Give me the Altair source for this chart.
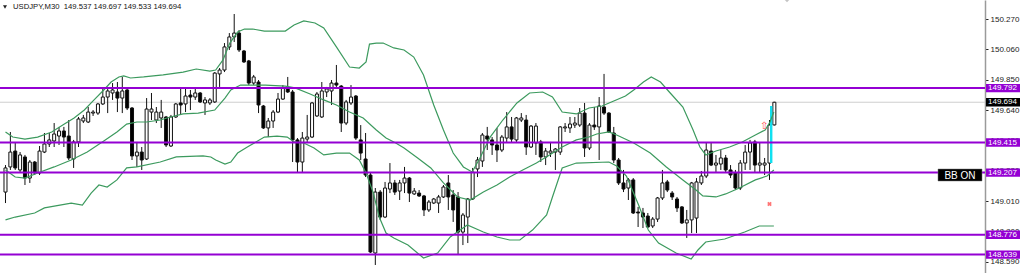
import altair as alt
import pandas as pd

# ---------------- data ----------------
title_text = "USDJPY,M30\u00a0\u00a0149.537 149.697 149.533 149.694"

open_ = [149.072,149.246,149.356,149.225,149.315,149.169,149.280,149.204,149.349,149.405,
149.426,149.460,149.495,149.460,149.301,149.419,149.564,149.557,149.619,149.619,
149.682,149.730,149.758,149.765,149.723,149.779,149.654,149.322,149.349,149.301,
149.626,149.571,149.585,149.592,149.391,149.592,149.689,149.682,149.744,149.730,
149.758,149.689,149.689,149.696,149.890,149.917,150.077,150.146,150.173,150.049,
149.980,149.827,149.834,149.668,149.516,149.564,149.626,149.716,149.793,149.765,
149.433,149.280,149.439,149.453,149.599,149.592,149.765,149.772,149.827,149.806,
149.550,149.689,149.737,149.433,149.301,149.190,148.650,149.072,148.899,149.093,
149.135,149.079,149.135,149.169,149.059,149.065,149.045,148.948,148.996,148.996,
149.038,149.135,149.052,149.038,148.795,148.899,149.024,149.232,149.287,149.460,
149.433,149.398,149.363,149.446,149.523,149.433,149.571,149.571,149.384,149.412,
149.419,149.315,149.342,149.349,149.349,149.516,149.516,149.536,149.536,149.619,
149.377,149.536,149.523,149.661,149.619,149.481,149.294,149.135,149.100,149.156,
148.934,148.927,148.906,148.837,148.885,149.031,149.142,149.065,149.024,148.969,
148.858,148.879,148.892,149.135,149.183,149.356,149.259,149.266,149.308,149.225,
149.204,149.100,149.273,149.349,149.419,149.259,149.259,149.273,149.537]

high_ = [149.259,149.488,149.412,149.349,149.329,149.294,149.287,149.391,149.481,149.481,
149.550,149.523,149.523,149.571,149.433,149.592,149.606,149.661,149.640,149.689,
149.793,149.793,149.827,149.834,149.869,149.786,149.661,149.419,149.384,149.723,
149.758,149.661,149.710,149.599,149.606,149.689,149.793,149.793,149.779,149.793,
149.765,149.730,149.723,149.903,149.931,150.104,150.173,150.305,150.194,150.056,
149.987,149.883,149.848,149.675,149.585,149.640,149.758,149.813,149.869,149.779,
149.446,149.488,149.606,149.696,149.765,149.834,149.800,149.848,149.952,149.813,
149.710,149.813,149.744,149.536,149.481,149.204,149.100,149.086,149.142,149.273,
149.156,149.156,149.246,149.176,149.100,149.086,149.052,149.017,149.031,149.052,
149.121,149.190,149.086,149.072,148.927,149.031,149.239,149.315,149.481,149.523,
149.453,149.516,149.467,149.626,149.592,149.592,149.619,149.606,149.536,149.550,
149.433,149.377,149.419,149.377,149.529,149.550,149.592,149.592,149.654,149.689,
149.550,149.661,149.730,149.890,149.626,149.523,149.308,149.225,149.169,149.169,
148.969,148.962,148.927,148.899,149.038,149.225,149.156,149.079,149.038,148.975,
148.948,149.142,149.169,149.218,149.412,149.412,149.329,149.363,149.329,149.259,
149.225,149.294,149.398,149.433,149.433,149.412,149.308,149.571,149.697]

low_ = [148.996,149.225,149.225,149.211,149.121,149.135,149.190,149.190,149.342,149.384,
149.384,149.398,149.384,149.294,149.239,149.384,149.550,149.550,149.599,149.606,
149.675,149.619,149.710,149.626,149.619,149.640,149.294,149.246,149.225,149.294,
149.571,149.550,149.516,149.384,149.384,149.585,149.606,149.626,149.640,149.710,
149.689,149.606,149.675,149.689,149.800,149.903,150.056,150.111,150.042,149.966,
149.813,149.813,149.619,149.509,149.453,149.516,149.619,149.710,149.758,149.280,
149.204,149.211,149.419,149.446,149.592,149.585,149.730,149.675,149.800,149.488,
149.536,149.675,149.433,149.294,149.176,148.650,148.567,148.879,148.892,149.065,
149.052,149.017,149.065,149.003,149.052,149.038,148.906,148.934,148.989,148.927,
149.031,148.948,148.865,148.636,148.705,148.719,149.017,149.176,149.246,149.363,
149.329,149.280,149.349,149.419,149.412,149.419,149.557,149.329,149.377,149.329,
149.280,149.259,149.315,149.225,149.329,149.488,149.481,149.516,149.523,149.315,
149.363,149.502,149.294,149.606,149.481,149.273,149.121,149.072,149.017,148.920,
148.830,148.823,148.823,148.823,148.865,149.017,149.072,149.017,148.934,148.851,
148.754,148.788,148.788,149.121,149.169,149.252,149.211,149.225,149.204,149.169,
149.086,149.086,149.225,149.225,149.211,149.211,149.190,149.156,149.533]

close_ = [149.239,149.349,149.239,149.329,149.169,149.280,149.204,149.356,149.405,149.433,
149.474,149.495,149.453,149.308,149.419,149.578,149.585,149.626,149.626,149.682,
149.730,149.772,149.779,149.723,149.772,149.654,149.322,149.349,149.294,149.647,
149.647,149.626,149.626,149.398,149.592,149.682,149.675,149.737,149.730,149.758,
149.696,149.710,149.710,149.896,149.917,150.077,150.146,150.173,150.056,149.973,
149.827,149.869,149.675,149.516,149.564,149.626,149.716,149.793,149.765,149.433,
149.280,149.446,149.453,149.689,149.751,149.772,149.786,149.827,149.813,149.550,
149.696,149.730,149.446,149.342,149.190,148.657,149.072,148.899,149.100,149.135,
149.072,149.135,149.169,149.065,149.079,149.045,148.948,149.003,149.024,149.038,
149.107,149.038,148.948,148.795,148.913,149.024,149.211,149.294,149.467,149.439,
149.398,149.363,149.453,149.523,149.439,149.585,149.585,149.384,149.529,149.529,
149.315,149.356,149.356,149.370,149.523,149.523,149.543,149.550,149.619,149.377,
149.536,149.523,149.668,149.619,149.488,149.294,149.135,149.093,149.156,148.927,
148.927,148.899,148.830,148.885,149.031,149.135,149.086,149.038,148.962,148.858,
148.879,149.135,149.142,149.183,149.363,149.259,149.273,149.308,149.225,149.190,
149.100,149.273,149.349,149.412,149.259,149.273,149.273,149.536,149.694]

# Bollinger band lines, read at candle positions (index, price)
upper_idx = [0,1.5,4,6.6,9.5,12.1,14.1,16.2,18.2,20.2,21.7,23.3,24.3,25.7,28.4,32.4,36.5,39.2,42,43.2,
             44.7,46.1,47.7,49.1,50.8,53.2,57.5,59.3,61.3,63.6,65.4,68,70.7,72.7,74.1,74.8,76.2,77.6,79.8,81.9,
             83.9,85.9,88,90,92,94.1,95.9,97.5,99.6,102.2,105.1,107.7,110.4,112.4,114.4,117.3,119.9,122.6,125,127.4,
             129.1,131.1,132.7,134.6,136.6,139.2,141.3,142.7,143.9,146,148.8,151.4,154.1,156.1,157.1,157.9]
upper_px = [149.488,149.453,149.439,149.453,149.488,149.543,149.585,149.640,149.710,149.779,
            149.834,149.869,149.876,149.862,149.869,149.883,149.903,149.924,149.910,149.917,
            149.987,150.104,150.180,150.201,150.201,150.187,150.187,150.229,150.257,150.243,
            150.208,150.077,149.938,149.931,149.973,150.097,150.104,150.104,150.070,150.056,
            150.007,149.883,149.675,149.502,149.342,149.246,149.211,149.308,149.453,149.571,
            149.689,149.758,149.765,149.730,149.626,149.613,149.654,149.668,149.703,149.737,
            149.779,149.834,149.869,149.834,149.758,149.661,149.502,149.384,149.329,149.356,
            149.384,149.419,149.467,149.502,149.557,149.626]

mid_idx = [0,2,4,6.6,10,13.5,16.8,20.2,22.9,24.9,27,29,31.8,33.9,36.5,39.6,43,45.1,46.3,48.3,
           50.8,53.4,57.5,59.5,62.6,65.4,68,70.7,73.5,76.2,78.2,80.2,81.9,84.7,87.4,90,92.9,95.5,98.2,101,
           103.6,106.3,109.1,111.8,114.4,117.3,119.9,121.5,124,125.6,129.1,132.5,135.8,139.2,141.9,143.3,146,148,150.8,154.1,
           156.5,157.9]
mid_px = [149.225,149.176,149.169,149.204,149.246,149.294,149.349,149.426,149.488,149.543,
          149.557,149.557,149.571,149.592,149.613,149.619,149.640,149.723,149.779,149.813,
          149.813,149.813,149.806,149.793,149.751,149.710,149.675,149.626,149.585,149.502,
          149.446,149.412,149.377,149.308,149.239,149.135,149.038,149.017,149.072,149.121,
          149.176,149.225,149.273,149.329,149.384,149.433,149.453,149.474,149.488,149.467,
          149.412,149.342,149.246,149.156,149.086,149.045,149.038,149.059,149.100,149.156,
          149.183,149.225]

lower_idx = [0,2,6,8,13.5,15.8,17.6,19.2,20.9,22.9,24.9,27,31.8,35.1,40.6,42.2,43.2,45.1,46.3,47.7,
             49.7,53.2,55.8,57.9,59.3,61.3,63.4,65.4,68,70.7,72.7,74.1,75.6,76.8,78.2,79.8,82.7,85.9,88.8,91.4,
             94.9,98.2,101,103.6,105.7,108.3,111.2,112.4,114.4,117.3,124,125.6,127.6,130.1,132.1,134.2,137.8,140.9,142.3,143.9,
             147.8,151.9,154.9,157.9]
lower_px = [148.879,148.899,148.927,148.962,148.996,148.982,149.065,149.121,149.107,149.156,
            149.239,149.246,149.280,149.315,149.322,149.315,149.294,149.266,149.280,149.342,
            149.384,149.453,149.460,149.453,149.419,149.412,149.377,149.329,149.342,149.342,
            149.294,149.204,149.065,148.899,148.788,148.754,148.705,148.615,148.650,148.761,
            148.844,148.795,148.761,148.740,148.740,148.809,148.913,149.038,149.239,149.273,
            149.280,149.252,149.183,148.982,148.809,148.719,148.650,148.608,148.671,148.726,
            148.747,148.795,148.837,148.837]

level_prices = [149.792, 149.415, 149.207, 148.776, 148.639]
level_labels = ["149.792", "149.415", "149.207", "148.776", "148.639"]
bid_price = [149.694]
bid_label = ["149.694"]
axis_ticks = [150.270, 150.060, 149.850, 149.640, 149.430, 149.220, 149.010, 148.800, 148.590]

signal_idx = [157.1, 157.6]
signal_px = [149.273, 149.668]
arrow_idx = [155.9]
arrow_px = [149.529]
cross_idx = [157.0]
cross_px = [148.989]
bb_text = ["BB ON"]

# ---------------- tables ----------------
n = len(open_)
candles = pd.DataFrame({"idx": list(range(n)), "open": open_, "high": high_,
                        "low": low_, "close": close_})
candles["top"] = candles[["open", "close"]].max(axis=1)
candles["bot"] = candles[["open", "close"]].min(axis=1)
candles["fill"] = ["white" if c >= o else "black" for o, c in zip(open_, close_)]

bands = pd.concat([
    pd.DataFrame({"idx": upper_idx, "p": upper_px, "band": "upper"}),
    pd.DataFrame({"idx": mid_idx, "p": mid_px, "band": "middle"}),
    pd.DataFrame({"idx": lower_idx, "p": lower_px, "band": "lower"}),
])

half = 0.029
levels = pd.DataFrame({"p": level_prices, "label": level_labels})
levels["t"] = levels["p"] + half
levels["b"] = levels["p"] - half
bid = pd.DataFrame({"p": bid_price, "label": bid_label})
bid["t"] = bid["p"] + half
bid["b"] = bid["p"] - half

FONT = "Liberation Sans"
xscale = alt.Scale(domain=[-0.1017, 200.26], nice=False, zero=False)
yscale = alt.Scale(domain=[148.5115, 150.402], nice=False, zero=False)
yaxis = alt.Axis(orient="right", values=axis_ticks, format=".3f", title=None,
                 labelFont=FONT, labelFontSize=8, labelColor="#222",
                 tickColor="#222", tickSize=3, tickWidth=1, labelPadding=2,
                 domainColor="#9a9a9a", domainWidth=1.5, grid=False,
                 labelOverlap=False, labelFlush=False)

def X(f):
    return alt.X(f, scale=xscale, axis=None)

def Y(f):
    return alt.Y(f, scale=yscale, axis=yaxis)

bid_line = alt.Chart(bid).mark_rule(color="#cfcfcf", strokeWidth=1).encode(y=Y("p:Q"))

wicks = alt.Chart(candles).mark_rule(color="#111", strokeWidth=1).encode(
    x=X("idx:Q"), y=Y("low:Q"), y2="high:Q")

bodies = alt.Chart(candles).mark_bar(size=3, stroke="#111", strokeWidth=1).encode(
    x=X("idx:Q"), y=Y("bot:Q"), y2="top:Q", fill=alt.Fill("fill:N", scale=None))

sig = alt.Chart(pd.DataFrame({"x1": [signal_idx[0]], "x2": [signal_idx[1]],
                              "y1": [signal_px[0]], "y2": [signal_px[1]]})).mark_rect(
    color="#10E0F0").encode(x=X("x1:Q"), x2="x2:Q", y=Y("y1:Q"), y2="y2:Q")

band_lines = alt.Chart(bands).mark_line(color="#3C9A5E", strokeWidth=1.2).encode(
    x=X("idx:Q"), y=Y("p:Q"), detail="band:N")

level_lines = alt.Chart(levels).mark_rule(color="#9400D3", strokeWidth=2).encode(y=Y("p:Q"))

arrow = alt.Chart(pd.DataFrame({"i": arrow_idx, "p": arrow_px})).mark_text(
    text="⇧", color="#ff4a4a", fontSize=10, font="DejaVu Sans").encode(x=X("i:Q"), y=Y("p:Q"))

cross = alt.Chart(pd.DataFrame({"i": cross_idx, "p": cross_px})).mark_point(
    shape="cross", angle=45, filled=True, size=22, color="#ff3b3b").encode(x=X("i:Q"), y=Y("p:Q"))

level_boxes = alt.Chart(levels).mark_rect(color="#9400D3").encode(
    x=alt.value(986), x2=alt.value(1020), y=Y("t:Q"), y2="b:Q")
level_text = alt.Chart(levels).mark_text(align="left", baseline="middle", color="white",
                                         fontSize=8, font=FONT).encode(
    x=alt.value(988), y=Y("p:Q"), text="label:N")

bid_box = alt.Chart(bid).mark_rect(color="#000").encode(
    x=alt.value(986), x2=alt.value(1020), y=Y("t:Q"), y2="b:Q")
bid_text = alt.Chart(bid).mark_text(align="left", baseline="middle", color="white",
                                    fontSize=8, font=FONT).encode(
    x=alt.value(988), y=Y("p:Q"), text="label:N")

bb_df = pd.DataFrame({"t": bb_text})
bb_box = alt.Chart(bb_df).mark_rect(color="#000", stroke="#777", strokeWidth=0.5).encode(
    x=alt.value(938), x2=alt.value(982), y=alt.value(169), y2=alt.value(181))
bb_label = alt.Chart(bb_df).mark_text(align="center", baseline="middle", color="white",
                                      fontSize=10, font=FONT).encode(
    x=alt.value(960), y=alt.value(175.5), text="t:N")

title_df = pd.DataFrame({"t": [title_text]})
title = alt.Chart(title_df).mark_text(align="left", baseline="middle", color="#111",
                                      fontSize=7.7, font=FONT).encode(
    x=alt.value(13), y=alt.value(7), text="t:N")
tri = alt.Chart(title_df).mark_point(shape="triangle-down", filled=True, size=16,
                                     color="#222", opacity=1).encode(
    x=alt.value(5), y=alt.value(7))
top_marker = alt.Chart(title_df).mark_point(shape="diamond", filled=True, size=70,
                                            color="#c4c4c4", opacity=1).encode(
    x=alt.value(787), y=alt.value(-2))

chart = alt.layer(
    bid_line, wicks, bodies, sig, band_lines, level_lines, arrow, cross,
    level_boxes, level_text, bid_box, bid_text, bb_box, bb_label, title, tri, top_marker
).properties(
    width=985, height=273,
    autosize=alt.AutoSizeParams(type="none"),
    padding={"left": 0, "top": 0, "right": 39, "bottom": 0},
    background="white",
).configure_view(stroke=None)

chart.save("out.html", embed_options={"renderer": "svg", "actions": False})
